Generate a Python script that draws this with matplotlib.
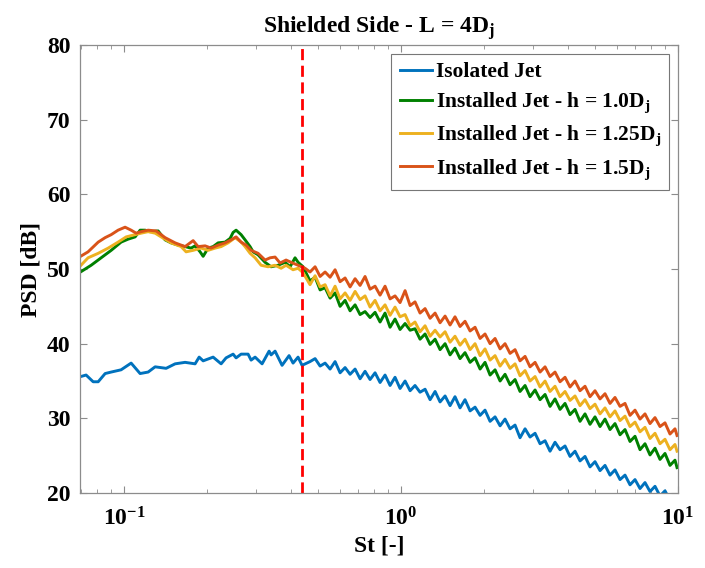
import matplotlib
matplotlib.use("Agg")
import matplotlib.pyplot as plt
import numpy as np

FONT = "Liberation Serif"
plt.rcParams["font.family"] = [FONT, "DejaVu Serif"]
plt.rcParams["font.weight"] = "bold"
plt.rcParams["mathtext.fontset"] = "custom"
plt.rcParams["mathtext.rm"] = FONT + ":bold"
plt.rcParams["mathtext.it"] = FONT + ":bold"
plt.rcParams["mathtext.bf"] = FONT + ":bold"

# ---- data (St [-], PSD [dB]) ----
labels = [
    "Isolated Jet",
    "Installed Jet - h = 1.0D$_j$",
    "Installed Jet - h = 1.25D$_j$",
    "Installed Jet - h = 1.5D$_j$",
]
colors = ["#0072BD", "#008000", "#EDB120", "#D95319"]
cutoff_st = 0.44

# low-frequency part, each series read separately
st_iso_low = [0.0682, 0.0729, 0.0773, 0.0806, 0.0854, 0.0898, 0.0975, 0.1060, 0.1142,
              0.1221, 0.1294, 0.1418, 0.1528, 0.1660, 0.1804, 0.1866, 0.1929, 0.2096,
              0.2240, 0.2334, 0.2475, 0.2537, 0.2645, 0.2803, 0.2874, 0.2971, 0.3149,
              0.3338, 0.3394, 0.3508, 0.3718, 0.3941, 0.4074, 0.4247, 0.4390]
psd_iso_low = [35.5, 35.8, 34.9, 34.9, 36.0, 36.2, 36.5, 37.4, 36.0,
               36.2, 36.9, 36.7, 37.3, 37.5, 37.3, 38.2, 37.7, 38.2,
               37.3, 38.1, 38.6, 38.1, 38.6, 38.6, 37.8, 38.2, 37.3,
               39.0, 38.5, 39.0, 37.1, 38.4, 37.4, 38.2, 37.1]

st_h10_low = [0.0682, 0.0760, 0.0826, 0.0898, 0.0975, 0.1034, 0.1096, 0.1142, 0.1191,
              0.1241, 0.1327, 0.1406, 0.1478, 0.1566, 0.1660, 0.1745, 0.1804, 0.1881,
              0.1929, 0.2010, 0.2096, 0.2185, 0.2315, 0.2414, 0.2475, 0.2537, 0.2645,
              0.2734, 0.2850, 0.2922, 0.3046, 0.3228, 0.3394, 0.3597, 0.3812, 0.3974,
              0.4142, 0.4247, 0.4427]
psd_h10_low = [49.4, 50.5, 51.5, 52.5, 53.6, 54.0, 54.3, 55.2, 55.2,
               55.0, 55.1, 53.9, 53.5, 53.2, 53.0, 52.8, 53.1, 52.3,
               51.7, 52.8, 53.0, 53.5, 53.6, 54.1, 54.9, 55.2, 54.6,
               53.9, 53.0, 52.3, 51.9, 50.9, 50.3, 50.5, 50.9, 50.3,
               51.5, 50.9, 50.3]

st_h125_low = [0.0682, 0.0741, 0.0806, 0.0876, 0.0951, 0.1017, 0.1096, 0.1152, 0.1221,
               0.1294, 0.1360, 0.1478, 0.1606, 0.1674, 0.1775, 0.1897, 0.2010, 0.2131,
               0.2240, 0.2374, 0.2516, 0.2645, 0.2734, 0.2850, 0.2971, 0.3123, 0.3310,
               0.3508, 0.3688, 0.3844, 0.4074, 0.4247, 0.4427]
psd_h125_low = [50.1, 51.5, 52.1, 52.8, 53.6, 54.3, 54.6, 54.8, 55.0,
                54.8, 54.3, 53.5, 53.0, 52.3, 52.5, 52.8, 52.5, 52.8,
                53.0, 53.5, 54.2, 53.6, 53.0, 52.1, 51.5, 50.5, 50.3,
                50.5, 50.1, 50.5, 49.9, 50.1, 49.5]

st_h15_low = [0.0682, 0.0741, 0.0806, 0.0854, 0.0898, 0.0951, 0.1008, 0.1060, 0.1105,
              0.1152, 0.1221, 0.1305, 0.1406, 0.1528, 0.1660, 0.1775, 0.1850, 0.1961,
              0.2061, 0.2185, 0.2315, 0.2434, 0.2537, 0.2645, 0.2757, 0.2874, 0.3046,
              0.3228, 0.3366, 0.3508, 0.3657, 0.3844, 0.4007, 0.4247, 0.4500]
psd_h15_low = [51.5, 52.3, 53.6, 54.2, 54.6, 55.2, 55.6, 55.2, 54.8,
               55.0, 55.2, 55.1, 54.2, 53.5, 53.0, 53.8, 53.0, 53.1,
               52.8, 53.2, 53.5, 53.9, 54.3, 53.6, 53.2, 52.5, 52.1,
               51.2, 51.5, 51.6, 50.8, 51.2, 50.9, 50.5, 50.1]

# high-frequency part, shared St samples
st_high = [0.4691, 0.4893, 0.5101, 0.5317, 0.5543, 0.5778, 0.6023, 0.6279, 0.6545,
           0.6823, 0.7112, 0.7413, 0.7728, 0.8056, 0.8398, 0.8754, 0.9127, 0.9512,
           0.9917, 1.034, 1.078, 1.123, 1.171, 1.221, 1.273, 1.327, 1.383, 1.442,
           1.503, 1.566, 1.633, 1.702, 1.775, 1.850, 1.929, 2.010, 2.096, 2.185,
           2.278, 2.374, 2.475, 2.580, 2.689, 2.804, 2.922, 3.047, 3.176, 3.311,
           3.451, 3.597, 3.750, 3.909, 4.075, 4.248, 4.428, 4.616, 4.812, 5.016,
           5.229, 5.451, 5.682, 5.923, 6.175, 6.437, 6.710, 6.995, 7.292, 7.601,
           7.924, 8.260, 8.610, 8.976, 9.357, 9.754, 9.92]

psd_iso_high = [37.6, 38.0, 37.0, 37.4, 36.6, 37.6, 36.1, 36.8, 35.9,
                36.6, 35.3, 36.3, 35.2, 36.1, 34.8, 35.8, 34.4, 35.5,
                34.0, 35.0, 33.7, 34.4, 33.5, 33.9, 32.5, 33.6, 32.2, 33.0,
                31.7, 32.9, 31.4, 32.5, 31.0, 31.5, 30.4, 31.1, 29.6, 30.2,
                29.0, 29.9, 28.6, 29.1, 27.4, 28.6, 27.5, 28.0, 26.6, 27.0,
                25.6, 26.8, 25.8, 26.3, 24.9, 25.6, 24.3, 24.9, 23.5, 24.2,
                23.0, 23.7, 22.4, 23.1, 21.8, 22.4, 21.1, 21.8, 20.6, 21.4,
                20.2, 20.9, 19.6, 20.3, 19.0, 19.7, 18.8]
psd_h10_high = [48.4, 48.9, 47.2, 47.5, 46.1, 46.8, 45.0, 45.8, 44.4,
                45.2, 43.9, 44.3, 43.5, 44.2, 42.9, 44.1, 42.2, 43.3,
                41.9, 42.7, 41.8, 42.0, 40.6, 41.3, 39.9, 40.6, 39.2, 40.0,
                38.5, 39.4, 38.0, 38.8, 37.5, 38.1, 36.6, 37.5, 35.8, 36.5,
                35.0, 35.9, 34.5, 35.2, 33.6, 34.4, 32.9, 33.8, 32.5, 33.2,
                31.6, 32.6, 31.2, 32.0, 30.5, 31.2, 29.6, 30.6, 29.2, 30.2,
                28.9, 29.9, 28.5, 29.3, 27.8, 28.5, 26.9, 27.6, 25.8, 26.6,
                25.1, 26.0, 24.5, 25.3, 23.7, 24.4, 23.4]
psd_h125_high = [47.9, 49.1, 47.6, 47.9, 46.4, 47.7, 46.0, 46.8, 45.8,
                 47.0, 45.9, 46.4, 44.9, 45.8, 44.4, 45.2, 43.8, 44.9,
                 43.6, 43.9, 42.4, 42.9, 41.6, 42.4, 41.0, 41.8, 40.9, 41.6,
                 40.2, 41.0, 39.8, 40.6, 39.2, 40.0, 38.4, 39.3, 37.8, 38.4,
                 37.0, 37.9, 36.7, 37.3, 35.7, 36.4, 35.0, 35.6, 34.2, 35.0,
                 33.6, 34.3, 32.9, 33.6, 32.4, 33.0, 31.7, 32.5, 31.3, 31.9,
                 30.6, 31.4, 30.2, 31.0, 29.7, 30.3, 28.9, 29.5, 28.2, 28.8,
                 27.3, 28.0, 26.6, 27.2, 25.8, 26.5, 25.6]
psd_h15_high = [49.6, 50.3, 49.0, 49.6, 48.9, 49.9, 48.3, 48.8, 47.6,
                48.7, 47.8, 49.0, 47.3, 47.7, 46.5, 47.7, 46.0, 46.4,
                45.5, 47.1, 45.1, 45.6, 44.1, 44.7, 43.4, 44.1, 42.8, 43.7,
                42.5, 43.6, 42.3, 43.0, 41.7, 42.2, 40.7, 41.3, 40.0, 40.7,
                39.3, 40.0, 38.7, 39.2, 37.7, 38.3, 36.9, 37.5, 36.2, 36.9,
                35.6, 36.2, 34.9, 35.5, 34.2, 35.0, 33.7, 34.3, 32.9, 33.7,
                32.6, 33.3, 32.0, 32.8, 31.6, 32.0, 30.4, 31.1, 29.9, 30.6,
                29.3, 30.1, 28.9, 29.4, 27.9, 28.6, 27.7]

series = [
    (st_iso_low, psd_iso_low, psd_iso_high),
    (st_h10_low, psd_h10_low, psd_h10_high),
    (st_h125_low, psd_h125_low, psd_h125_high),
    (st_h15_low, psd_h15_low, psd_h15_high),
]

fig = plt.figure(figsize=(7.05, 5.68), dpi=100)
ax = fig.add_axes([0.1135, 0.132, 0.8482, 0.7888])

for (st_low, psd_low, psd_high), color, label in zip(series, colors, labels):
    st = np.concatenate([st_low, st_high])
    psd = np.concatenate([psd_low, psd_high])
    ax.plot(st, psd, color=color, lw=2.1, label=label)

ax.axvline(cutoff_st, color="#FF0000", lw=2.0, linestyle=(0, (4, 2)))

ax.set_xscale("log")
ax.set_xlim(0.0693, 10)
ax.set_ylim(20, 80)
ax.set_yticks(np.arange(20, 81, 10))
ax.set_xticks([0.1, 1, 10])
ax.set_xticklabels(["10$^{-1}$", "10$^{0}$", "10$^{1}$"])

for spine in ax.spines.values():
    spine.set_color("#8c8c8c")
    spine.set_linewidth(0.9)
ax.tick_params(which="both", direction="in", top=True, right=True, color="#8c8c8c")
ax.tick_params(which="major", length=5, labelsize=17, pad=7)
ax.tick_params(which="minor", length=3)
ax.tick_params(axis="x", which="major", pad=10)

ax.set_xlabel("St [-]", fontsize=17, fontweight="bold")
ax.set_ylabel("PSD [dB]", fontsize=17, fontweight="bold")
ax.set_title("Shielded Side - L = 4D$_j$", fontsize=17, fontweight="bold", pad=9)

leg = ax.legend(loc="upper right", fontsize=15.5, handlelength=1.5, handletextpad=0.15,
                labelspacing=0.4, borderpad=0.4, borderaxespad=0.4, fancybox=False)
leg.get_frame().set_edgecolor("#555555")
leg.get_frame().set_linewidth(0.8)

fig.savefig("out.png", dpi=100)
